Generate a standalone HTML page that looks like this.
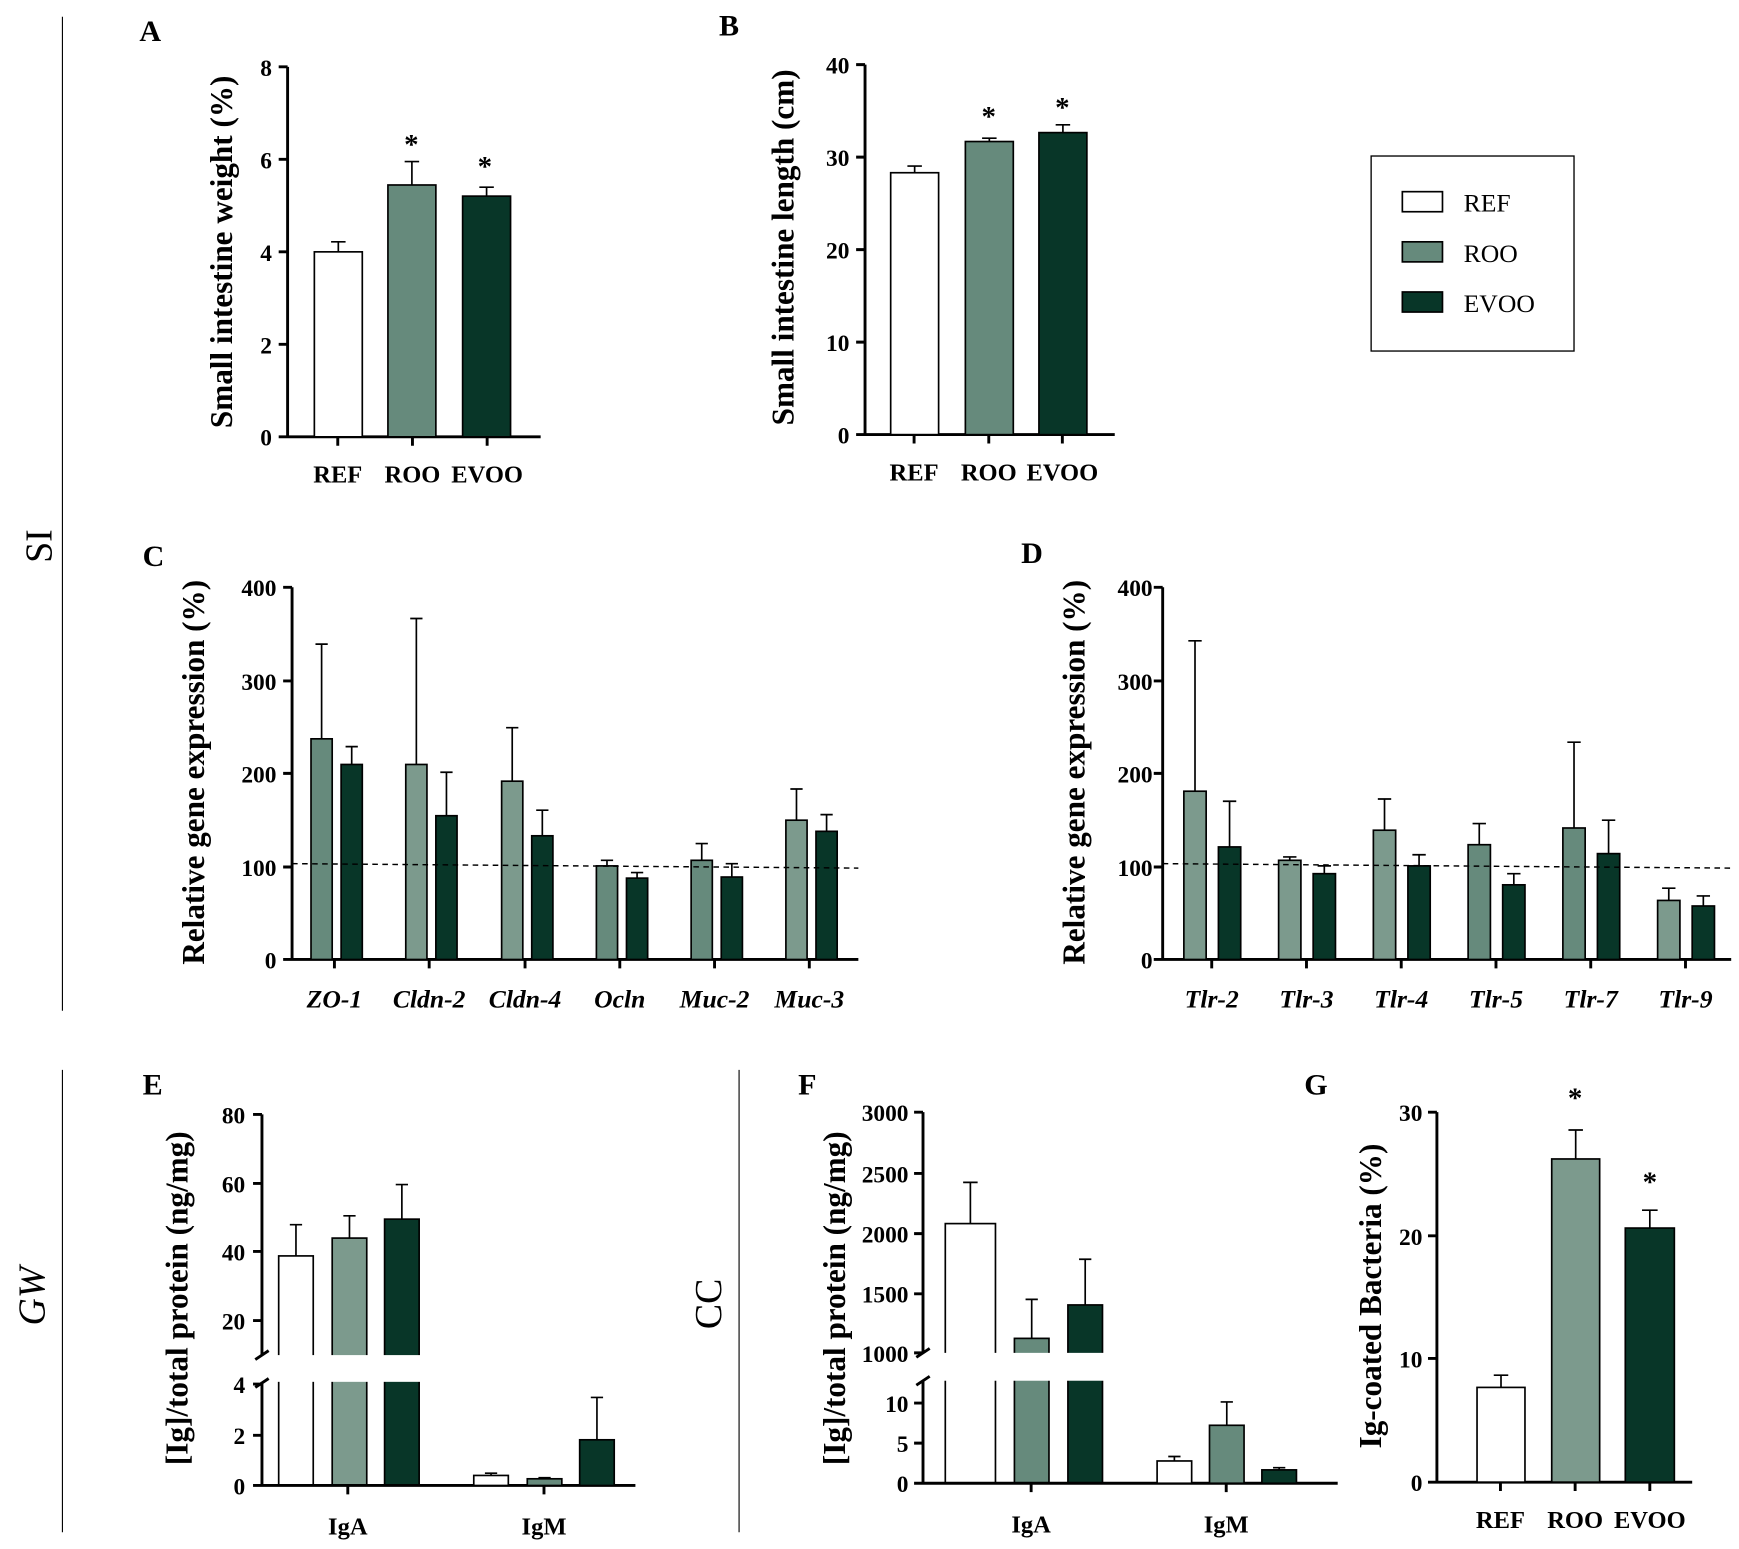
<!DOCTYPE html>
<html><head><meta charset="utf-8"><style>
html,body{margin:0;padding:0;background:#fff;}
svg{display:block;}
text{font-family:"Liberation Serif",serif;font-weight:bold;fill:#000;}
.t{font-size:21px;text-anchor:end;}
.x{font-size:22px;text-anchor:middle;}
.xi{font-size:23px;text-anchor:middle;font-style:italic;}
.ti{font-size:28px;text-anchor:middle;}
.pl{font-size:27px;}
.big{font-size:34px;font-weight:normal;text-anchor:middle;}
.lg{font-size:23px;font-weight:normal;}
.ax{stroke:#000;stroke-width:2.6;fill:none;}
.e{stroke:#000;stroke-width:1.5;fill:none;}
.r{fill:#fff;stroke:#000;stroke-width:1.5;}
.o{fill:#668a7c;stroke:#000;stroke-width:1.5;}
.o2{fill:#7c9a8d;stroke:#000;stroke-width:1.5;}
.v{fill:#083628;stroke:#000;stroke-width:1.5;}
</style></head><body>
<svg width="1739" height="1549" viewBox="0 0 1560 1390" preserveAspectRatio="none" xmlns="http://www.w3.org/2000/svg">
<line x1="56" y1="15" x2="56" y2="907" stroke="#000" stroke-width="1"/>
<text class="big" transform="translate(46,490) rotate(-90)">SI</text>
<line x1="56" y1="960" x2="56" y2="1375" stroke="#000" stroke-width="1"/>
<text class="big" transform="translate(40,1163) rotate(-90)" style="font-style:italic">GW</text>
<line x1="663" y1="960" x2="663" y2="1375" stroke="#000" stroke-width="1"/>
<text class="big" transform="translate(647,1170) rotate(-90)">CC</text>

<!-- Panel A -->
<text class="pl" x="125" y="37">A</text>
<path class="ax" d="M258,60 V392 H485 M250,60 H258 M250,143 H258 M250,226 H258 M250,309 H258 M250,392 H258 M303,392 V400 M370,392 V400 M437,392 V400"/>
<text class="t" x="244" y="68">8</text><text class="t" x="244" y="151">6</text><text class="t" x="244" y="234">4</text><text class="t" x="244" y="317">2</text><text class="t" x="244" y="400">0</text>
<rect class="r" x="282" y="226" width="43" height="166"/>
<path class="e" d="M303.5,226 V217 M297,217 H310"/>
<rect class="o" x="348" y="166" width="43" height="226"/>
<path class="e" d="M369.5,166 V145 M363,145 H376"/>
<rect class="v" x="415" y="176" width="43" height="216"/>
<path class="e" d="M436.5,176 V168 M430,168 H443"/>
<text class="x" x="369" y="138" style="font-size:26px">*</text>
<text class="x" x="435" y="158" style="font-size:26px">*</text>
<text class="x" x="303" y="433">REF</text><text class="x" x="370" y="433">ROO</text><text class="x" x="437" y="433">EVOO</text>
<text class="ti" transform="translate(208,226) rotate(-90)">Small intestine weight (%)</text>

<!-- Panel B -->
<text class="pl" x="645" y="32">B</text>
<path class="ax" d="M776,58 V390 H1000 M768,58 H776 M768,141 H776 M768,224 H776 M768,307 H776 M768,390 H776 M820,390 V398 M887,390 V398 M953,390 V398"/>
<text class="t" x="762" y="66">40</text><text class="t" x="762" y="149">30</text><text class="t" x="762" y="232">20</text><text class="t" x="762" y="315">10</text><text class="t" x="762" y="398">0</text>
<rect class="r" x="799" y="155" width="43" height="235"/>
<path class="e" d="M820.5,155 V149 M814,149 H827"/>
<rect class="o" x="866" y="127" width="43" height="263"/>
<path class="e" d="M887.5,127 V124 M881,124 H894"/>
<rect class="v" x="932" y="119" width="43" height="271"/>
<path class="e" d="M953.5,119 V112 M947,112 H960"/>
<text class="x" x="887" y="113" style="font-size:26px">*</text>
<text class="x" x="953" y="105" style="font-size:26px">*</text>
<text class="x" x="820" y="431">REF</text><text class="x" x="887" y="431">ROO</text><text class="x" x="953" y="431">EVOO</text>
<text class="ti" transform="translate(712,222) rotate(-90)">Small intestine length (cm)</text>

<!-- Legend -->
<rect x="1230" y="140" width="182" height="175" fill="#fff" stroke="#000" stroke-width="1.2"/>
<rect class="r" x="1258" y="172" width="36" height="18"/><text class="lg" x="1313" y="190">REF</text>
<rect class="o" x="1258" y="217" width="36" height="18"/><text class="lg" x="1313" y="235">ROO</text>
<rect class="v" x="1258" y="262" width="36" height="18"/><text class="lg" x="1313" y="280">EVOO</text>

<!-- Panel C -->
<text class="pl" x="128" y="508">C</text>
<path class="ax" d="M262,527 V861 H770 M254,527 H262 M254,611 H262 M254,694 H262 M254,778 H262 M254,861 H262 M300,861 V869 M385,861 V869 M471,861 V869 M556,861 V869 M641,861 V869 M726,861 V869"/>
<text class="t" x="248" y="535">400</text><text class="t" x="248" y="619">300</text><text class="t" x="248" y="702">200</text><text class="t" x="248" y="786">100</text><text class="t" x="248" y="869">0</text>
<g>
<rect class="o" x="279" y="663" width="19" height="198"/><path class="e" d="M288.5,663 V578 M283,578 H294"/>
<rect class="v" x="306" y="686" width="19" height="175"/><path class="e" d="M315.5,686 V670 M310,670 H321"/>
<rect class="o2" x="364" y="686" width="19" height="175"/><path class="e" d="M373.5,686 V555 M368,555 H379"/>
<rect class="v" x="391" y="732" width="19" height="129"/><path class="e" d="M400.5,732 V693 M395,693 H406"/>
<rect class="o2" x="450" y="701" width="19" height="160"/><path class="e" d="M459.5,701 V653 M454,653 H465"/>
<rect class="v" x="477" y="750" width="19" height="111"/><path class="e" d="M486.5,750 V727 M481,727 H492"/>
<rect class="o" x="535" y="777" width="19" height="84"/><path class="e" d="M544.5,777 V772 M539,772 H550"/>
<rect class="v" x="562" y="788" width="19" height="73"/><path class="e" d="M571.5,788 V783 M566,783 H577"/>
<rect class="o" x="620" y="772" width="19" height="89"/><path class="e" d="M629.5,772 V757 M624,757 H635"/>
<rect class="v" x="647" y="787" width="19" height="74"/><path class="e" d="M656.5,787 V775 M651,775 H662"/>
<rect class="o2" x="705" y="736" width="19" height="125"/><path class="e" d="M714.5,736 V708 M709,708 H720"/>
<rect class="v" x="732" y="746" width="19" height="115"/><path class="e" d="M741.5,746 V731 M736,731 H747"/>
</g>
<line x1="262" y1="775" x2="770" y2="779" stroke="#000" stroke-width="1.3" stroke-dasharray="5,4"/>
<text class="xi" x="300" y="904">ZO-1</text><text class="xi" x="385" y="904">Cldn-2</text><text class="xi" x="471" y="904">Cldn-4</text><text class="xi" x="556" y="904">Ocln</text><text class="xi" x="641" y="904">Muc-2</text><text class="xi" x="726" y="904">Muc-3</text>
<text class="ti" transform="translate(183,693) rotate(-90)">Relative gene expression (%)</text>

<!-- Panel D -->
<text class="pl" x="916" y="505">D</text>
<path class="ax" d="M1043,527 V861 H1553 M1035,527 H1043 M1035,611 H1043 M1035,694 H1043 M1035,778 H1043 M1035,861 H1043 M1087,861 V869 M1172,861 V869 M1257,861 V869 M1342,861 V869 M1427,861 V869 M1512,861 V869"/>
<text class="t" x="1034" y="535">400</text><text class="t" x="1034" y="619">300</text><text class="t" x="1034" y="702">200</text><text class="t" x="1034" y="786">100</text><text class="t" x="1034" y="869">0</text>
<g>
<rect class="o2" x="1062" y="710" width="20" height="151"/><path class="e" d="M1072,710 V575 M1066,575 H1078"/>
<rect class="v" x="1093" y="760" width="20" height="101"/><path class="e" d="M1103,760 V719 M1097,719 H1109"/>
<rect class="o2" x="1147" y="772" width="20" height="89"/><path class="e" d="M1157,772 V769 M1151,769 H1163"/>
<rect class="v" x="1178" y="784" width="20" height="77"/><path class="e" d="M1188,784 V777 M1182,777 H1194"/>
<rect class="o2" x="1232" y="745" width="20" height="116"/><path class="e" d="M1242,745 V717 M1236,717 H1248"/>
<rect class="v" x="1263" y="777" width="20" height="84"/><path class="e" d="M1273,777 V767 M1267,767 H1279"/>
<rect class="o" x="1317" y="758" width="20" height="103"/><path class="e" d="M1327,758 V739 M1321,739 H1333"/>
<rect class="v" x="1348" y="794" width="20" height="67"/><path class="e" d="M1358,794 V784 M1352,784 H1364"/>
<rect class="o" x="1402" y="743" width="20" height="118"/><path class="e" d="M1412,743 V666 M1406,666 H1418"/>
<rect class="v" x="1433" y="766" width="20" height="95"/><path class="e" d="M1443,766 V736 M1437,736 H1449"/>
<rect class="o2" x="1487" y="808" width="20" height="53"/><path class="e" d="M1497,808 V797 M1491,797 H1503"/>
<rect class="v" x="1518" y="813" width="20" height="48"/><path class="e" d="M1528,813 V804 M1522,804 H1534"/>
</g>
<line x1="1043" y1="775" x2="1553" y2="779" stroke="#000" stroke-width="1.3" stroke-dasharray="5,4"/>
<text class="xi" x="1087" y="904">Tlr-2</text><text class="xi" x="1172" y="904">Tlr-3</text><text class="xi" x="1257" y="904">Tlr-4</text><text class="xi" x="1342" y="904">Tlr-5</text><text class="xi" x="1427" y="904">Tlr-7</text><text class="xi" x="1512" y="904">Tlr-9</text>
<text class="ti" transform="translate(973,693) rotate(-90)">Relative gene expression (%)</text>

<!-- Panel E -->
<text class="pl" x="128" y="982">E</text>
<rect class="r" x="250" y="1127" width="31" height="206"/><path class="e" d="M265.5,1127 V1099 M260,1099 H271"/>
<rect class="o2" x="298" y="1111" width="31" height="222"/><path class="e" d="M313.5,1111 V1091 M308,1091 H319"/>
<rect class="v" x="345" y="1094" width="31" height="239"/><path class="e" d="M360.5,1094 V1063 M355,1063 H366"/>
<rect x="226" y="1216" width="170" height="24" fill="#fff"/>
<path class="ax" d="M235,1000 V1216 M235,1240 V1333 H570 M227,1000 H235 M227,1062 H235 M227,1123 H235 M227,1185 H235 M227,1242 H235 M227,1288 H235 M227,1333 H235 M312,1333 V1341 M488,1333 V1341 M229,1220 L241,1212 M229,1245 L241,1237"/>
<rect class="r" x="425" y="1324" width="31" height="9"/><path class="e" d="M440.5,1324 V1322 M435,1322 H446"/>
<rect class="o" x="473" y="1327" width="31" height="6"/><path class="e" d="M488.5,1327 V1326 M483,1326 H494"/>
<rect class="v" x="520" y="1292" width="31" height="41"/><path class="e" d="M535.5,1292 V1254 M530,1254 H541"/>
<text class="t" x="220" y="1008">80</text><text class="t" x="220" y="1070">60</text><text class="t" x="220" y="1131">40</text><text class="t" x="220" y="1193">20</text><text class="t" x="220" y="1250">4</text><text class="t" x="220" y="1296">2</text><text class="t" x="220" y="1341">0</text>
<text class="x" x="312" y="1377">IgA</text><text class="x" x="488" y="1377">IgM</text>
<text class="ti" transform="translate(168,1165) rotate(-90)">[Ig]/total protein (ng/mg)</text>

<!-- Panel F -->
<text class="pl" x="716" y="982">F</text>
<rect class="r" x="848" y="1098" width="45" height="233"/><path class="e" d="M870.5,1098 V1061 M864,1061 H877"/>
<rect class="o" x="910" y="1201" width="31" height="130"/><path class="e" d="M925.5,1201 V1166 M920,1166 H931"/>
<rect class="v" x="958" y="1171" width="31" height="160"/><path class="e" d="M973.5,1171 V1130 M968,1130 H979"/>
<rect x="818" y="1214" width="180" height="25" fill="#fff"/>
<path class="ax" d="M828,998 V1214 M828,1239 V1331 H1200 M820,998 H828 M820,1053 H828 M820,1107 H828 M820,1161 H828 M820,1214 H828 M820,1259 H828 M820,1295 H828 M820,1331 H828 M925,1331 V1339 M1100,1331 V1339 M822,1218 L834,1210 M822,1243 L834,1235"/>
<rect class="r" x="1038" y="1311" width="31" height="20"/><path class="e" d="M1053.5,1311 V1307 M1048,1307 H1059"/>
<rect class="o" x="1085" y="1279" width="31" height="52"/><path class="e" d="M1100.5,1279 V1258 M1095,1258 H1106"/>
<rect class="v" x="1132" y="1319" width="31" height="12"/><path class="e" d="M1147.5,1319 V1317 M1142,1317 H1153"/>
<text class="t" x="815" y="1006">3000</text><text class="t" x="815" y="1061">2500</text><text class="t" x="815" y="1115">2000</text><text class="t" x="815" y="1169">1500</text><text class="t" x="815" y="1222">1000</text><text class="t" x="815" y="1267">10</text><text class="t" x="815" y="1303">5</text><text class="t" x="815" y="1339">0</text>
<text class="x" x="925" y="1375">IgA</text><text class="x" x="1100" y="1375">IgM</text>
<text class="ti" transform="translate(758,1165) rotate(-90)">[Ig]/total protein (ng/mg)</text>

<!-- Panel G -->
<text class="pl" x="1170" y="982">G</text>
<path class="ax" d="M1289,998 V1330 H1518 M1281,998 H1289 M1281,1109 H1289 M1281,1219 H1289 M1281,1330 H1289 M1346,1330 V1338 M1413,1330 V1338 M1480,1330 V1338"/>
<text class="t" x="1276" y="1006">30</text><text class="t" x="1276" y="1117">20</text><text class="t" x="1276" y="1227">10</text><text class="t" x="1276" y="1338">0</text>
<rect class="r" x="1325" y="1245" width="43" height="85"/><path class="e" d="M1346.5,1245 V1234 M1340,1234 H1353"/>
<rect class="o2" x="1392" y="1040" width="43" height="290"/><path class="e" d="M1413.5,1040 V1014 M1407,1014 H1420"/>
<rect class="v" x="1458" y="1102" width="44" height="228"/><path class="e" d="M1480,1102 V1086 M1473,1086 H1487"/>
<text class="x" x="1413" y="994" style="font-size:26px">*</text>
<text class="x" x="1480" y="1069" style="font-size:26px">*</text>
<text class="x" x="1346" y="1371">REF</text><text class="x" x="1413" y="1371">ROO</text><text class="x" x="1480" y="1371">EVOO</text>
<text class="ti" transform="translate(1239,1163) rotate(-90)">Ig-coated Bacteria (%)</text>
</svg>
</body></html>
